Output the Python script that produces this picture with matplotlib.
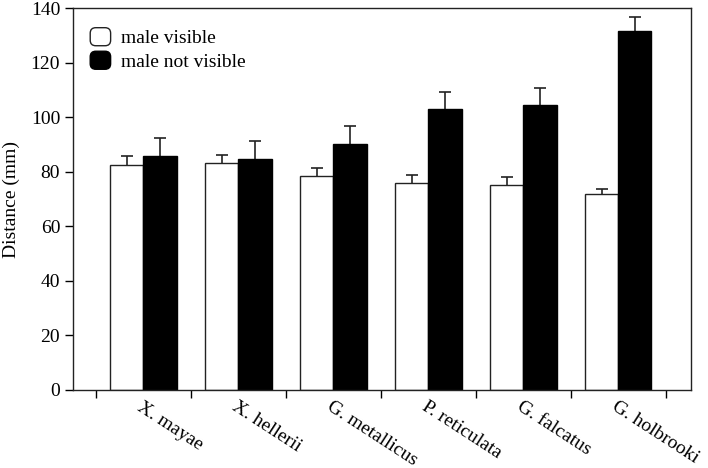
import matplotlib
matplotlib.use("Agg")
import matplotlib.pyplot as plt
import numpy as np
from matplotlib.patches import FancyBboxPatch, Patch
from matplotlib.legend_handler import HandlerPatch

plt.rcParams['font.family'] = ['Liberation Serif', 'DejaVu Serif']

species = ["X. mayae", "X. hellerii", "G. metallicus", "P. reticulata", "G. falcatus", "G. holbrooki"]
visible = [82.7, 83.1, 78.5, 76.0, 75.2, 71.7]
visible_err = [3.0, 3.0, 2.8, 3.0, 2.8, 2.2]
not_visible = [85.7, 84.8, 90.4, 103.0, 104.5, 131.5]
not_visible_err = [6.8, 6.7, 6.3, 6.2, 6.2, 5.2]
yticks = [0, 20, 40, 60, 80, 100, 120, 140]

FS = 14

fig = plt.figure(figsize=(7.08, 4.68), dpi=100)
ax = fig.add_axes([0.1027, 0.1667, 0.8729, 0.8156])

x = np.arange(len(species))
w = 0.35
ec = '#222222'
for xs, vals, errs, fc in [(x - w/2, visible, visible_err, 'white'),
                           (x + w/2, not_visible, not_visible_err, 'black')]:
    vals = np.array(vals)
    errs = np.array(errs)
    ax.vlines(xs, vals, vals + errs, color=ec, linewidth=1.2, zorder=1)
    ax.plot(xs, vals + errs, linestyle='none', marker='_', markersize=8,
            markeredgewidth=1.2, color=ec, zorder=1)
    ax.bar(xs, vals, w, color=fc, edgecolor=ec if fc == 'white' else 'black',
           linewidth=1.0, zorder=2)

ax.set_xlim(-0.743, 5.763)
ax.set_ylim(0, 140)
ax.set_yticks(yticks)
ax.set_xticks(np.arange(-0.5, len(species), 1.0))
ax.set_xticklabels([])
ax.set_xticks(x, minor=True)
ax.set_xticklabels(species, minor=True, rotation=-33, ha='left', va='top',
                   rotation_mode='anchor', fontsize=FS)
ax.tick_params(axis='x', which='minor', length=0, pad=6)
ax.tick_params(axis='both', which='major', direction='out', length=5.5, width=1, labelsize=FS)
ax.set_ylabel('Distance (mm)', fontsize=FS, labelpad=8)
for s in ax.spines.values():
    s.set_linewidth(1.0)
    s.set_color(ec)

def make_round(legend, orig_handle, xdescent, ydescent, width, height, fontsize):
    return FancyBboxPatch((-xdescent, -ydescent), width, height,
                          boxstyle="round,pad=0,rounding_size=4")

handles = [Patch(facecolor='white', edgecolor=ec, linewidth=1.0),
           Patch(facecolor='black', edgecolor='black', linewidth=1.0)]
ax.legend(handles, ['male visible', 'male not visible'], loc='upper left',
          frameon=False, fontsize=FS, handlelength=1.05, handleheight=1.05,
          handletextpad=0.55, labelspacing=0.2, bbox_to_anchor=(0.0, 0.995),
          handler_map={Patch: HandlerPatch(patch_func=make_round)})

fig.savefig('out.png', dpi=100)
